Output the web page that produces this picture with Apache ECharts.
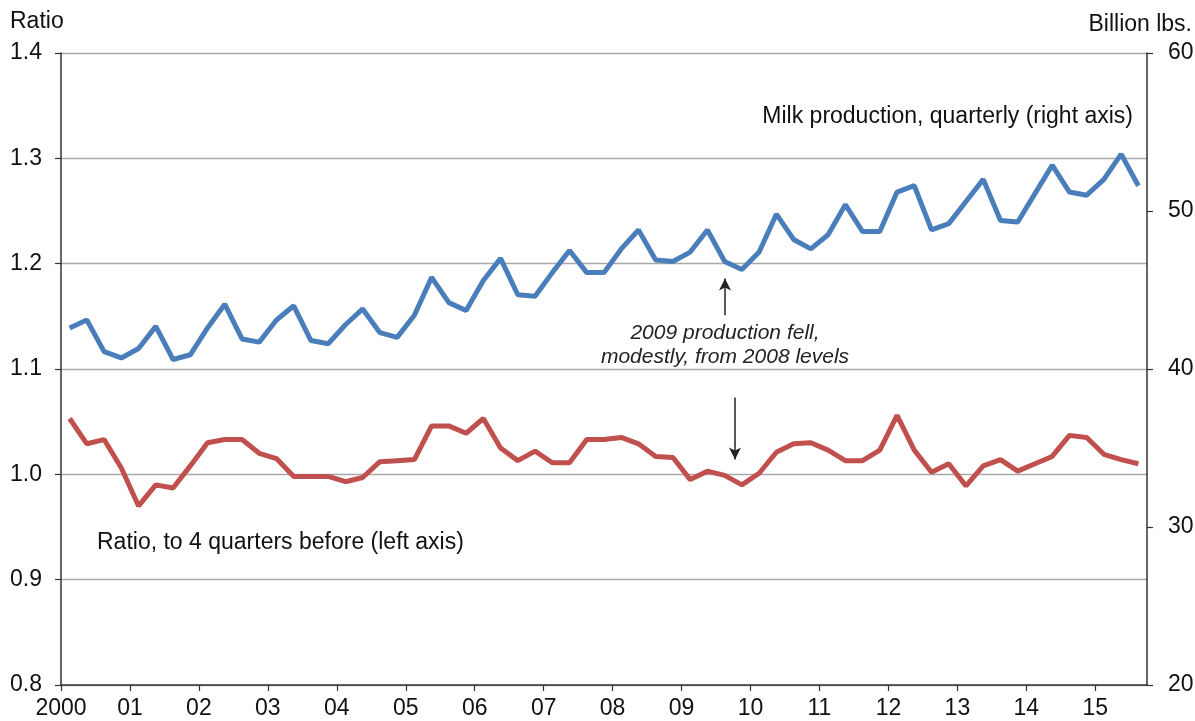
<!DOCTYPE html>
<html>
<head>
<meta charset="utf-8">
<title>Milk production and ratio</title>
<script src="https://cdn.jsdelivr.net/npm/echarts@6/dist/echarts.min.js"></script>
<style>
  html, body { margin: 0; padding: 0; background: #fff; }
  #chart { width: 1195px; height: 721px; }
</style>
</head>
<body>
<div id="chart"></div>
<script>
// quarters 2000 Q1 .. 2015 Q3
var firstYear = 2000;
var yearTicks = [2000, 2001, 2002, 2003, 2004, 2005, 2006, 2007, 2008, 2009, 2010, 2011, 2012, 2013, 2014, 2015];

// milk production, billion lbs, quarterly (right axis)
var milkData = [
    42.6, 43.1, 41.1, 40.7, 41.3, 42.7, 40.6, 40.9,
    42.6, 44.1, 41.9, 41.7, 43.1, 44.0, 41.8, 41.6,
    42.8, 43.8, 42.3, 42.0, 43.4, 45.8, 44.2, 43.7,
    45.6, 47.0, 44.7, 44.6, 46.1, 47.5, 46.1, 46.1,
    47.6, 48.8, 46.9, 46.8, 47.4, 48.8, 46.8, 46.3,
    47.4, 49.8, 48.2, 47.6, 48.5, 50.4, 48.7, 48.7,
    51.2, 51.6, 48.8, 49.2, 50.6, 52.0, 49.4, 49.3,
    51.1, 52.9, 51.2, 51.0, 52.0, 53.6, 51.6
];

// ratio to 4 quarters before (left axis)
var ratioData = [
    1.053, 1.029, 1.033, 1.006, 0.970, 0.990, 0.987, 1.008,
    1.030, 1.033, 1.033, 1.020, 1.015, 0.998, 0.998, 0.998,
    0.993, 0.997, 1.012, 1.013, 1.014, 1.046, 1.046, 1.039,
    1.053, 1.025, 1.013, 1.022, 1.011, 1.011, 1.033, 1.033,
    1.035, 1.029, 1.017, 1.016, 0.995, 1.003, 0.999, 0.990,
    1.001, 1.021, 1.029, 1.030, 1.023, 1.013, 1.013, 1.023,
    1.056, 1.023, 1.002, 1.010, 0.989, 1.008, 1.014, 1.003,
    1.010, 1.017, 1.037, 1.035, 1.019, 1.014, 1.010
];

// annotation arrows, [year, ratio] pairs (start, tip)
var upArrow = [[2009.63, 1.151], [2009.63, 1.186]];
var downArrow = [[2009.775, 1.073], [2009.775, 1.014]];

var quarterX = milkData.map(function(v, i) {
    return firstYear + (i + 0.5) / 4;
});
var milkSeries = milkData.map(function(v, i) { return [quarterX[i], v]; });
var ratioSeries = ratioData.map(function(v, i) { return [quarterX[i], v]; });

var font = '"Liberation Sans", Arial, Helvetica, sans-serif';
var axisColor = '#333333';

var chart = echarts.init(document.getElementById('chart'));
var option = {
    animation: false,
    backgroundColor: '#ffffff',
    textStyle: { fontFamily: font },
    grid: {
        left: 61,
        right: 48,
        top: 53,
        bottom: 36,
        outerBoundsMode: 'none'
    },
    xAxis: {
        type: 'value',
        min: firstYear,
        max: firstYear + milkData.length / 4,
        interval: 1,
        axisLine: { lineStyle: { color: axisColor, width: 1.5 } },
        axisTick: {
            length: 6,
            customValues: yearTicks,
            lineStyle: { color: axisColor, width: 1.2 }
        },
        axisLabel: {
            customValues: yearTicks,
            margin: 12,
            fontSize: 23,
            color: '#111',
            fontFamily: font,
            formatter: function(v) {
                return v === firstYear ? String(v) : String(v).slice(2);
            }
        },
        splitLine: { show: false }
    },
    yAxis: [{
        type: 'value',
        min: 0.8,
        max: 1.4,
        interval: 0.1,
        position: 'left',
        axisLine: { show: true, lineStyle: { color: axisColor, width: 1.5 } },
        axisTick: { show: true, length: 6, lineStyle: { color: axisColor, width: 1.2 } },
        axisLabel: {
            margin: 19,
            fontSize: 23,
            color: '#111',
            fontFamily: font,
            formatter: function(v) { return v.toFixed(1); }
        },
        splitLine: { show: true, lineStyle: { color: '#a8a8a8', width: 1.3 } }
    }, {
        type: 'value',
        min: 20,
        max: 60,
        interval: 10,
        position: 'right',
        axisLine: { show: true, lineStyle: { color: axisColor, width: 1.5 } },
        axisTick: { show: true, length: 6, lineStyle: { color: axisColor, width: 1.2 } },
        axisLabel: {
            margin: 21,
            fontSize: 23,
            color: '#111',
            fontFamily: font
        },
        splitLine: { show: false }
    }],
    series: [{
        name: 'Milk production',
        type: 'line',
        yAxisIndex: 1,
        data: milkSeries,
        symbol: 'none',
        lineStyle: { color: '#4a7ebb', width: 5 },
        z: 3
    }, {
        name: 'Ratio',
        type: 'line',
        yAxisIndex: 0,
        data: ratioSeries,
        symbol: 'none',
        lineStyle: { color: '#c0504d', width: 5 },
        z: 3,
        markLine: {
            silent: true,
            symbol: ['none', 'arrow'],
            symbolSize: [9, 12],
            label: { show: false },
            lineStyle: { color: '#222', width: 1.5, type: 'solid' },
            data: [
                [{ coord: upArrow[0] }, { coord: upArrow[1] }],
                [{ coord: downArrow[0] }, { coord: downArrow[1] }]
            ]
        }
    }],
    graphic: [{
        type: 'text',
        left: 10,
        top: 10,
        style: { text: 'Ratio', font: '23px ' + font, fill: '#111' }
    }, {
        type: 'text',
        right: 3,
        top: 13,
        style: { text: 'Billion lbs.', font: '23px ' + font, fill: '#111' }
    }, {
        type: 'text',
        right: 62,
        top: 105,
        style: { text: 'Milk production, quarterly (right axis)', font: '23px ' + font, fill: '#111' }
    }, {
        type: 'text',
        left: 97,
        top: 531,
        style: { text: 'Ratio, to 4 quarters before (left axis)', font: '23px ' + font, fill: '#111' }
    }, {
        type: 'text',
        x: 725,
        y: 345,
        style: {
            text: '2009 production fell,\nmodestly, from 2008 levels',
            font: 'italic 21px ' + font,
            fill: '#222',
            align: 'center',
            verticalAlign: 'middle',
            lineHeight: 24
        }
    }]
};

chart.setOption(option);
</script>
</body>
</html>
